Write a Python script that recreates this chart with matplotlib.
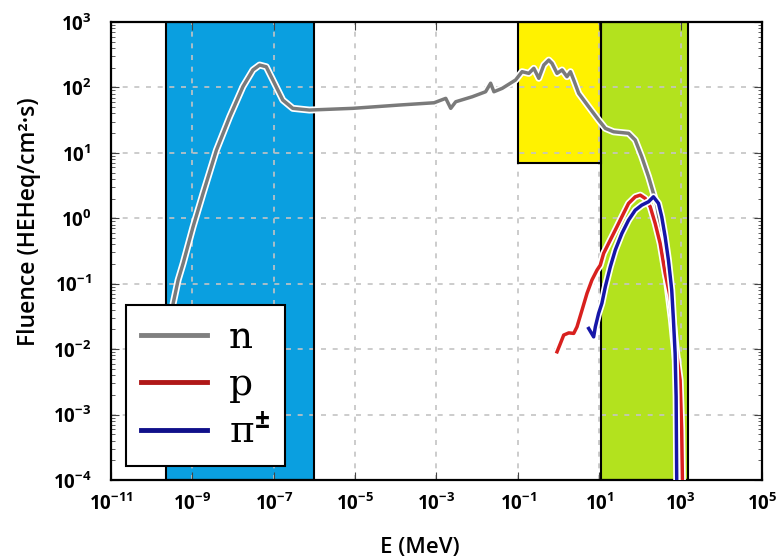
import matplotlib
matplotlib.use("Agg")
import numpy as np
import matplotlib.pyplot as plt
import matplotlib.patheffects as pe
from matplotlib.patches import Rectangle
from matplotlib.lines import Line2D
from matplotlib.ticker import FixedLocator, LogLocator, FuncFormatter, NullFormatter, NullLocator

plt.rcParams['font.family'] = ['Open Sans', 'DejaVu Sans']
plt.rcParams['mathtext.fontset'] = 'custom'
plt.rcParams['mathtext.rm'] = 'Open Sans:bold'
plt.rcParams['mathtext.bf'] = 'Open Sans:bold'
plt.rcParams['mathtext.it'] = 'Open Sans:bold'

# neutrons
n_E = [2.36e-10, 2.79e-10, 3.37e-10, 4.47e-10, 5.92e-10, 1.04e-9, 1.83e-9, 3.90e-9, 8.26e-9,
       1.75e-8, 3.08e-8, 4.49e-8, 6.55e-8, 9.51e-8, 1.67e-7, 2.94e-7, 7.53e-7, 8.69e-6,
       1.21e-4, 8.73e-4, 1.69e-3, 2.24e-3, 2.97e-3, 7.59e-3, 1.61e-2, 2.14e-2, 2.58e-2,
       4.12e-2, 8.79e-2, 0.127, 0.186, 0.247, 0.327, 0.434, 0.575, 0.693, 0.918, 1.22,
       1.61, 1.96, 2.36, 3.13, 5.50, 9.66, 14.1, 22.5, 52.6, 76.7, 111, 163, 215, 259,
       358, 449, 596, 789, 935, 1047]
n_F = [3.36e-3, 1.95e-2, 5.00e-2, 0.114, 0.204, 0.741, 2.40, 11.0, 35.6, 103, 185, 220,
       207, 130, 64.1, 47.9, 45.1, 47.9, 53.8, 58.3, 68.1, 47.9, 60.4, 72.1, 85.9, 116,
       85.9, 96.8, 130, 174, 164, 196, 138, 220, 262, 233, 164, 185, 146, 174, 130, 81.3,
       50.7, 31.8, 23.7, 21.0, 19.9, 15.7, 8.71, 4.32, 2.40, 1.59, 0.465, 0.114, 2.77e-2,
       4.78e-3, 8.20e-4, 9.9e-5]

# protons
p_E = [0.918, 1.11, 1.34, 1.78, 2.36, 2.84, 3.77, 5.00, 6.62, 8.79, 10.6, 12.8, 18.7,
       27.2, 39.6, 52.6, 76.7, 102, 135, 179, 237, 314, 417, 553, 667, 802, 973, 1064, 1107]
p_F = [9.10e-3, 1.22e-2, 1.64e-2, 1.77e-2, 1.74e-2, 2.19e-2, 3.94e-2, 7.11e-2, 0.114,
       0.161, 0.192, 0.290, 0.465, 0.741, 1.19, 1.69, 2.13, 2.26, 2.01, 1.50, 0.836,
       0.413, 0.144, 6.31e-2, 2.47e-2, 8.59e-3, 3.36e-3, 5.77e-4, 9.9e-5]

# charged pions
pi_E = [5.50, 7.29, 8.02, 9.66, 11.6, 14.1, 18.7, 24.8, 36.0, 52.6, 76.7, 111, 163, 215,
        286, 344, 417, 502, 605, 667, 733, 776, 802]
pi_F = [2.07e-2, 1.54e-2, 2.19e-2, 3.52e-2, 5.00e-2, 8.97e-2, 0.181, 0.327, 0.587, 0.938,
        1.33, 1.59, 1.79, 2.13, 1.69, 1.05, 0.521, 0.230, 7.98e-2, 2.77e-2, 8.59e-3,
        1.87e-3, 9.9e-5]

# energy bands (E from, E to, lowest fluence)
thermal_band = (2.3e-10, 1.0e-6, 1e-4)
yellow_band = (0.1, 11.0, 7.0)
green_band = (11.0, 1500.0, 1e-4)
band_colors = ['#0a9fe0', '#fff200', '#b3e21e']

fig = plt.figure(figsize=(7.8, 5.6), dpi=100)
ax = fig.add_axes([0.1423, 0.1429, 0.8346, 0.8178])
ax.set_xscale('log')
ax.set_yscale('log')
ax.set_xlim(1e-11, 1e5)
ax.set_ylim(1e-4, 1e3)

for band, c in zip([thermal_band, yellow_band, green_band], band_colors):
    x0, x1, y0 = band
    ax.add_patch(Rectangle((x0, y0), x1 - x0, 1e3 - y0, facecolor=c, edgecolor='none', zorder=0.2))
    ax.add_patch(Rectangle((x0, y0), x1 - x0, 1e3 - y0, facecolor='none', edgecolor='black',
                           lw=1.5, zorder=0.7))

ax.grid(True, which='major', linestyle=(0, (3, 4)), color='#c4c4c4', lw=1.2)
ax.set_axisbelow(True)

white = [pe.Stroke(linewidth=5, foreground='white'), pe.Normal()]
ax.plot(n_E, n_F, color='#7a7a7a', lw=2.5, path_effects=white, zorder=3)
ax.plot(p_E, p_F, color='#d8201e', lw=2.5, path_effects=white, zorder=4)
ax.plot(pi_E, pi_F, color='#1616a8', lw=2.5, path_effects=white, zorder=5)

ax.xaxis.set_major_locator(FixedLocator([10.0 ** k for k in range(-11, 6, 2)]))
ax.xaxis.set_minor_locator(NullLocator())
ax.yaxis.set_major_locator(FixedLocator([10.0 ** k for k in range(-4, 4)]))
ax.yaxis.set_minor_locator(LogLocator(base=10, subs=range(2, 10), numticks=20))
ax.yaxis.set_minor_formatter(NullFormatter())
fmt = FuncFormatter(lambda v, pos: r'$\mathrm{10^{%d}}$' % round(np.log10(v)))
ax.xaxis.set_major_formatter(fmt)
ax.yaxis.set_major_formatter(fmt)
ax.tick_params(which='both', direction='in', top=True, right=True, color='#444444')
ax.tick_params(which='major', length=6, labelsize=13.5)
ax.tick_params(axis='y', which='major', pad=14)
ax.tick_params(axis='x', which='major', pad=9)
ax.tick_params(which='minor', length=3)
for s in ax.spines.values():
    s.set_linewidth(1.6)

ax.set_xlabel('E (MeV)', fontsize=16, fontweight='semibold')
ax.xaxis.set_label_coords(0.475, -0.125)
ax.set_ylabel('Fluence (HEHeq/cm²·s)', fontsize=16.5, fontweight='semibold')
ax.yaxis.set_label_coords(-0.108, 0.563)

handles = [Line2D([], [], color='#808080', lw=3.5),
           Line2D([], [], color='#b01818', lw=3.5),
           Line2D([], [], color='#10108a', lw=3.5)]
leg = ax.legend(handles, ['n', 'p', 'π$^{\\pm}$'], loc='upper left', bbox_to_anchor=(0.023, 0.382),
                prop={'family': 'DejaVu Serif', 'size': 27}, handlelength=1.75, handletextpad=0.6,
                labelspacing=0.3, borderpad=0.4, fancybox=False, framealpha=1,
                edgecolor='black', borderaxespad=0)
leg.get_frame().set_linewidth(1.5)
leg.set_zorder(10)

fig.savefig('out.png', dpi=100)
